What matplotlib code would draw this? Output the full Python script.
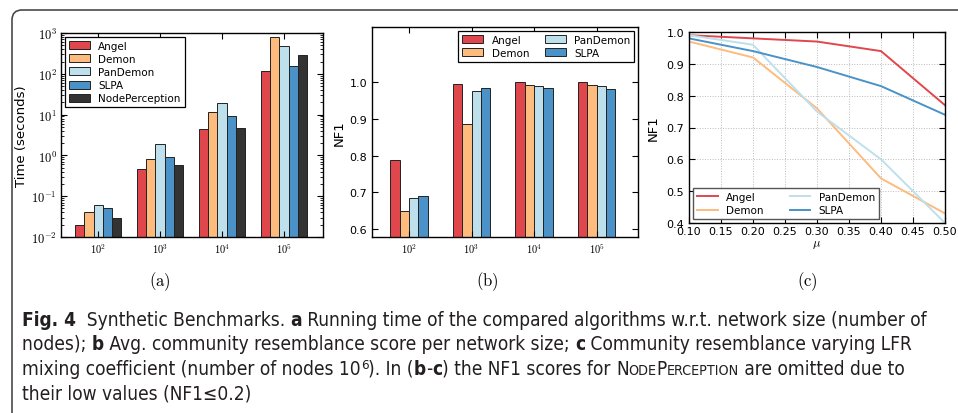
import matplotlib
matplotlib.use("Agg")
import matplotlib.pyplot as plt
import numpy as np
from matplotlib import font_manager
from matplotlib.font_manager import FontProperties
from matplotlib.patches import FancyBboxPatch
from matplotlib.transforms import IdentityTransform

# ---- data ---------------------------------------------------------------
size_labels = [r"$10^{2}$", r"$10^{3}$", r"$10^{4}$", r"$10^{5}$"]

time_algos = ["Angel", "Demon", "PanDemon", "SLPA", "NodePerception"]
time_angel = [0.02, 0.47, 4.5, 117]
time_demon = [0.04, 0.81, 11.4, 780]
time_pandemon = [0.06, 1.85, 19, 490]
time_slpa = [0.05, 0.93, 9.2, 152]
time_nodeperc = [0.03, 0.58, 4.6, 290]

nf1_algos = ["Angel", "Demon", "PanDemon", "SLPA"]
nf1_angel = [0.789, 0.995, 1.000, 1.000]
nf1_demon = [0.650, 0.886, 0.992, 0.992]
nf1_pandemon = [0.686, 0.975, 0.988, 0.988]
nf1_slpa = [0.690, 0.984, 0.983, 0.980]

mu = [0.10, 0.20, 0.30, 0.40, 0.50]
mu_angel = [0.99, 0.98, 0.97, 0.94, 0.77]
mu_demon = [0.97, 0.92, 0.76, 0.54, 0.43]
mu_pandemon = [0.99, 0.96, 0.75, 0.60, 0.40]
mu_slpa = [0.98, 0.94, 0.89, 0.83, 0.74]

COLORS = {
    "Angel": "#e0474c",
    "Demon": "#fdbb7e",
    "PanDemon": "#bde0ec",
    "SLPA": "#4a92c7",
    "NodePerception": "#333333",
}

plt.rcParams["mathtext.fontset"] = "cm"
plt.rcParams["font.family"] = "DejaVu Sans"

W, H = 958, 414
fig = plt.figure(figsize=(W / 100, H / 100), dpi=100)


def px_axes(left, top, right, bottom):
    return fig.add_axes([left / W, 1 - bottom / H, (right - left) / W, (bottom - top) / H])


def style_axes(ax, size=7.5):
    ax.tick_params(which="both", direction="in", top=True, right=True, labelsize=size)
    ax.tick_params(which="major", length=4, width=0.8)
    ax.tick_params(which="minor", length=2, width=0.6)
    for s in ax.spines.values():
        s.set_linewidth(1.0)
        s.set_color("black")


def grouped_bars(ax, series, names, width=0.15):
    x = np.arange(len(size_labels))
    n = len(series)
    for i, (vals, name) in enumerate(zip(series, names)):
        off = (i - (n - 1) / 2) * width
        ax.bar(x + off, vals, width, color=COLORS[name], edgecolor="#222222",
               linewidth=0.7, label=name)
    ax.set_xticks(x)
    ax.set_xticklabels(size_labels, fontsize=7)


# ---- (a) running time ---------------------------------------------------
ax_a = px_axes(61, 34, 323, 238)
grouped_bars(ax_a, [time_angel, time_demon, time_pandemon, time_slpa, time_nodeperc],
             time_algos)
ax_a.set_yscale("log")
ax_a.set_ylim(1e-2, 1e3)
ax_a.set_xlim(-0.6, 3.63)
ax_a.set_yticks([1e-2, 1e-1, 1e0, 1e1, 1e2, 1e3])
ax_a.set_yticklabels([r"$\mathsf{10^{-2}}$", r"$\mathsf{10^{-1}}$", r"$\mathsf{10^{0}}$",
                      r"$\mathsf{10^{1}}$", r"$\mathsf{10^{2}}$", r"$\mathsf{10^{3}}$"])
ax_a.set_ylabel("Time (seconds)", fontsize=9.5)
ax_a.yaxis.set_label_coords(-0.126, 0.5)
style_axes(ax_a)
ax_a.tick_params(axis="y", labelsize=9, pad=3)
ax_a.legend(loc="upper left", fontsize=7.5, frameon=True, fancybox=False,
            edgecolor="black", framealpha=1, borderaxespad=0.35,
            handlelength=2.0, handleheight=0.8, labelspacing=0.3)
ax_a.get_legend().get_frame().set_linewidth(0.9)

# ---- (b) NF1 per network size -------------------------------------------
ax_b = px_axes(372, 28, 638, 238)
grouped_bars(ax_b, [nf1_angel, nf1_demon, nf1_pandemon, nf1_slpa], nf1_algos)
ax_b.set_ylim(0.579, 1.149)
ax_b.set_xlim(-0.59, 3.66)
ax_b.set_yticks([0.6, 0.7, 0.8, 0.9, 1.0])
ax_b.set_ylabel("NF1", fontsize=9.5)
ax_b.yaxis.set_label_coords(-0.10, 0.5)
style_axes(ax_b)
ax_b.tick_params(axis="y", labelsize=8)
ax_b.legend(loc="upper right", ncol=2, fontsize=7.5, frameon=True, fancybox=False,
            edgecolor="black", framealpha=1, borderaxespad=0.35,
            handlelength=2.0, handleheight=0.8, labelspacing=0.3, columnspacing=1.5)
ax_b.get_legend().get_frame().set_linewidth(0.9)

# ---- (c) NF1 vs mixing coefficient --------------------------------------
ax_c = px_axes(689, 33, 945, 224)
for vals, name in zip([mu_angel, mu_demon, mu_pandemon, mu_slpa], nf1_algos):
    ax_c.plot(mu, vals, color=COLORS[name], linewidth=1.4, label=name)
ax_c.set_xlim(0.1, 0.5)
ax_c.set_ylim(0.4, 1.0)
ax_c.set_xticks(np.arange(0.10, 0.501, 0.05))
ax_c.set_xticklabels([f"{v:.2f}" for v in np.arange(0.10, 0.501, 0.05)])
ax_c.set_yticks(np.arange(0.4, 1.001, 0.1))
ax_c.set_yticklabels([f"{v:.1f}" for v in np.arange(0.4, 1.001, 0.1)])
ax_c.grid(True, linestyle=":", color="#bbbbbb", linewidth=0.7)
ax_c.set_ylabel("NF1", fontsize=9.5)
ax_c.yaxis.set_label_coords(-0.113, 0.5)
ax_c.set_xlabel(r"$\mu$", fontsize=9, labelpad=1)
style_axes(ax_c, size=8)
ax_c.tick_params(axis="x", pad=2)
ax_c.legend(loc="lower left", ncol=2, fontsize=7.5, frameon=True, fancybox=False,
            edgecolor="#555555", framealpha=1, borderaxespad=0.35,
            handlelength=2.0, labelspacing=0.3, columnspacing=2.5)

# ---- sub-figure letters -------------------------------------------------
for label, xc in [("(a)", 160), ("(b)", 487), ("(c)", 807)]:
    fig.text(xc / W, 1 - 282 / H, r"$\mathrm{" + label + "}$", ha="center",
             va="center", fontsize=12)

# ---- frame around the figure --------------------------------------------
frame = FancyBboxPatch((12, -40), 1100, H - 11 + 40,
                       boxstyle="round,pad=0,rounding_size=10",
                       transform=IdentityTransform(), facecolor="none",
                       edgecolor="#4a4a4a", linewidth=1.2, clip_on=False)
fig.patches.append(frame)


# ---- caption ------------------------------------------------------------
def pick_caption_fonts():
    # look for a narrow / condensed sans with both regular and bold faces
    prefs = ["Liberation Sans Narrow", "DejaVu Sans Condensed", "Roboto Condensed",
             "Open Sans Condensed", "Noto Sans Condensed", "DejaVu Sans"]
    found = {}
    for f in font_manager.fontManager.ttflist:
        if f.style != "normal":
            continue
        low = (f.fname or "").lower()
        narrow = ("narrow" in low or "condensed" in low or "narrow" in f.name.lower()
                  or "condensed" in f.name.lower())
        key = f.name
        if narrow and "Condensed" not in key and "Narrow" not in key:
            key = key + " Condensed"
        if "semicondensed" in low or "extracondensed" in low:
            continue
        w = f.weight if isinstance(f.weight, int) else (700 if "bold" in str(f.weight) else 400)
        slot = "bold" if w >= 600 else "regular"
        if slot == "regular" and w not in (400, 500):
            continue
        found.setdefault(key, {}).setdefault(slot, f.fname)
    for p in prefs:
        if p in found and "regular" in found[p] and "bold" in found[p]:
            return found[p]["regular"], found[p]["bold"]
    return None, None


reg_path, bold_path = pick_caption_fonts()


def cap_props(size, bold):
    if reg_path is not None:
        return FontProperties(fname=bold_path if bold else reg_path, size=size)
    return FontProperties(family="DejaVu Sans", weight="bold" if bold else "normal",
                          size=size)


CAP_COLOR = "#231f20"

# each run: (text, bold, scale, rise)
cap_lines = [
    [("Fig. 4", True, 1, 0), ("  Synthetic Benchmarks. ", False, 1, 0), ("a", True, 1, 0),
     (" Running time of the compared algorithms w.r.t. network size (number of", False, 1, 0)],
    [("nodes); ", False, 1, 0), ("b", True, 1, 0),
     (" Avg. community resemblance score per network size; ", False, 1, 0), ("c", True, 1, 0),
     (" Community resemblance varying LFR", False, 1, 0)],
    [("mixing coefficient (number of nodes 10", False, 1, 0), ("6", False, 0.7, 6),
     ("). In (", False, 1, 0), ("b", True, 1, 0), ("-", False, 1, 0), ("c", True, 1, 0),
     (") the NF1 scores for ", False, 1, 0), ("N", False, 1, 0), ("ODE", False, 0.75, 0),
     ("P", False, 1, 0), ("ERCEPTION", False, 0.75, 0), (" are omitted due to", False, 1, 0)],
    [("their low values (NF1\u22640.2)", False, 1, 0)],
]
cap_baselines = [326, 350, 375, 400]

renderer = fig.canvas.get_renderer()


def run_width(text, size, bold):
    t = fig.text(0, 0, text + "x", fontproperties=cap_props(size, bold))
    r = fig.text(0, 0, "x", fontproperties=cap_props(size, bold))
    w = t.get_window_extent(renderer).width - r.get_window_extent(renderer).width
    t.remove()
    r.remove()
    return w


# fit the first caption line to the reference width
base = 12.0
w1 = sum(run_width(t, base * s, b) for t, b, s, _ in cap_lines[0])
cap_size = min(base * 906 / w1, 14)

for line, yb in zip(cap_lines, cap_baselines):
    x = 22
    for text, bold, scale, rise in line:
        size = cap_size * scale
        fig.text(x, H - yb + rise, text, transform=IdentityTransform(),
                 fontproperties=cap_props(size, bold),
                 color=CAP_COLOR, va="baseline", ha="left")
        x += run_width(text, size, bold)

fig.savefig("out.png", dpi=100)
